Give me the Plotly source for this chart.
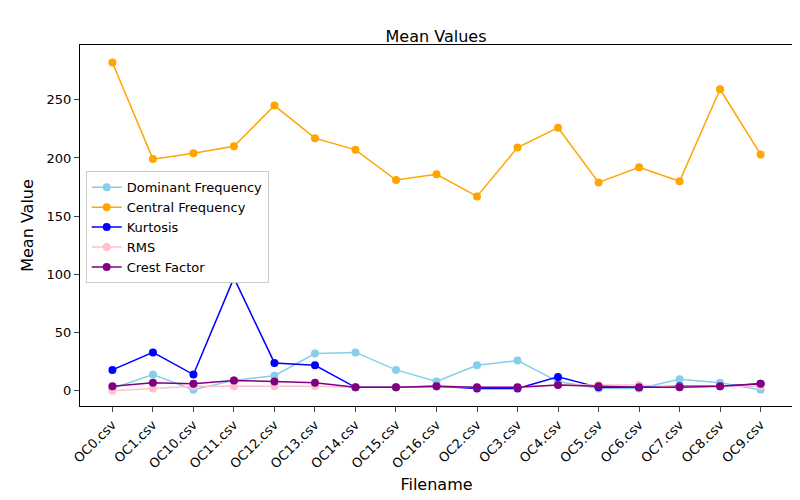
import plotly.graph_objects as go

files = ["OC0.csv", "OC1.csv", "OC10.csv", "OC11.csv", "OC12.csv", "OC13.csv", "OC14.csv",
         "OC15.csv", "OC16.csv", "OC2.csv", "OC3.csv", "OC4.csv", "OC5.csv", "OC6.csv",
         "OC7.csv", "OC8.csv", "OC9.csv"]
dominant = [2, 14, 1, 9, 13, 32, 33, 18, 8, 22, 26, 8, 2, 2, 10, 7, 1]
central = [282, 199, 204, 210, 245, 217, 207, 181, 186, 167, 209, 226, 179, 192, 180, 259, 203]
kurtosis = [18, 33, 14, 97, 24, 22, 3, 3, 4, 2, 2, 12, 3, 3, 4, 4, 6]
rms = [0, 2, 4, 4, 4, 4, 3, 3, 4, 3, 3, 5, 5, 5, 3, 4, 4]
crest = [4, 7, 6, 9, 8, 7, 3, 3, 4, 3, 3, 5, 4, 3, 3, 4, 6]

series = [("Dominant Frequency", dominant, "skyblue"),
          ("Central Frequency", central, "orange"),
          ("Kurtosis", kurtosis, "blue"),
          ("RMS", rms, "pink"),
          ("Crest Factor", crest, "purple")]

fig = go.Figure()
for name, vals, col in series:
    fig.add_trace(go.Scatter(x=files, y=vals, name=name, mode="lines+markers",
                             line=dict(color=col, width=1.5), marker=dict(color=col, size=8)))

axis = dict(showline=True, linecolor="black", mirror=True, ticks="outside", automargin=False,
            showgrid=False, zeroline=False, tickfont=dict(size=13, color="black"))
fig.update_layout(
    width=800, height=500, plot_bgcolor="white", paper_bgcolor="white",
    font=dict(family="DejaVu Sans", size=13, color="black"),
    margin=dict(l=72, r=15, t=37, b=102),
    title=dict(text="Mean Values", x=0.535, y=0.955, xanchor="center", font=dict(size=16)),
    xaxis=dict(axis, title=dict(text="Filename", standoff=8), tickangle=-45,
               range=[-0.8, 16.8]),
    yaxis=dict(axis, title=dict(text="Mean Value", standoff=8), range=[-13, 297],
               tickvals=[0, 50, 100, 150, 200, 250]),
    legend=dict(x=0.008, y=0.65, xanchor="left", yanchor="top", bordercolor="#ccc",
                borderwidth=1, bgcolor="white", font=dict(size=13)),
)
fig.write_html("out.html")
